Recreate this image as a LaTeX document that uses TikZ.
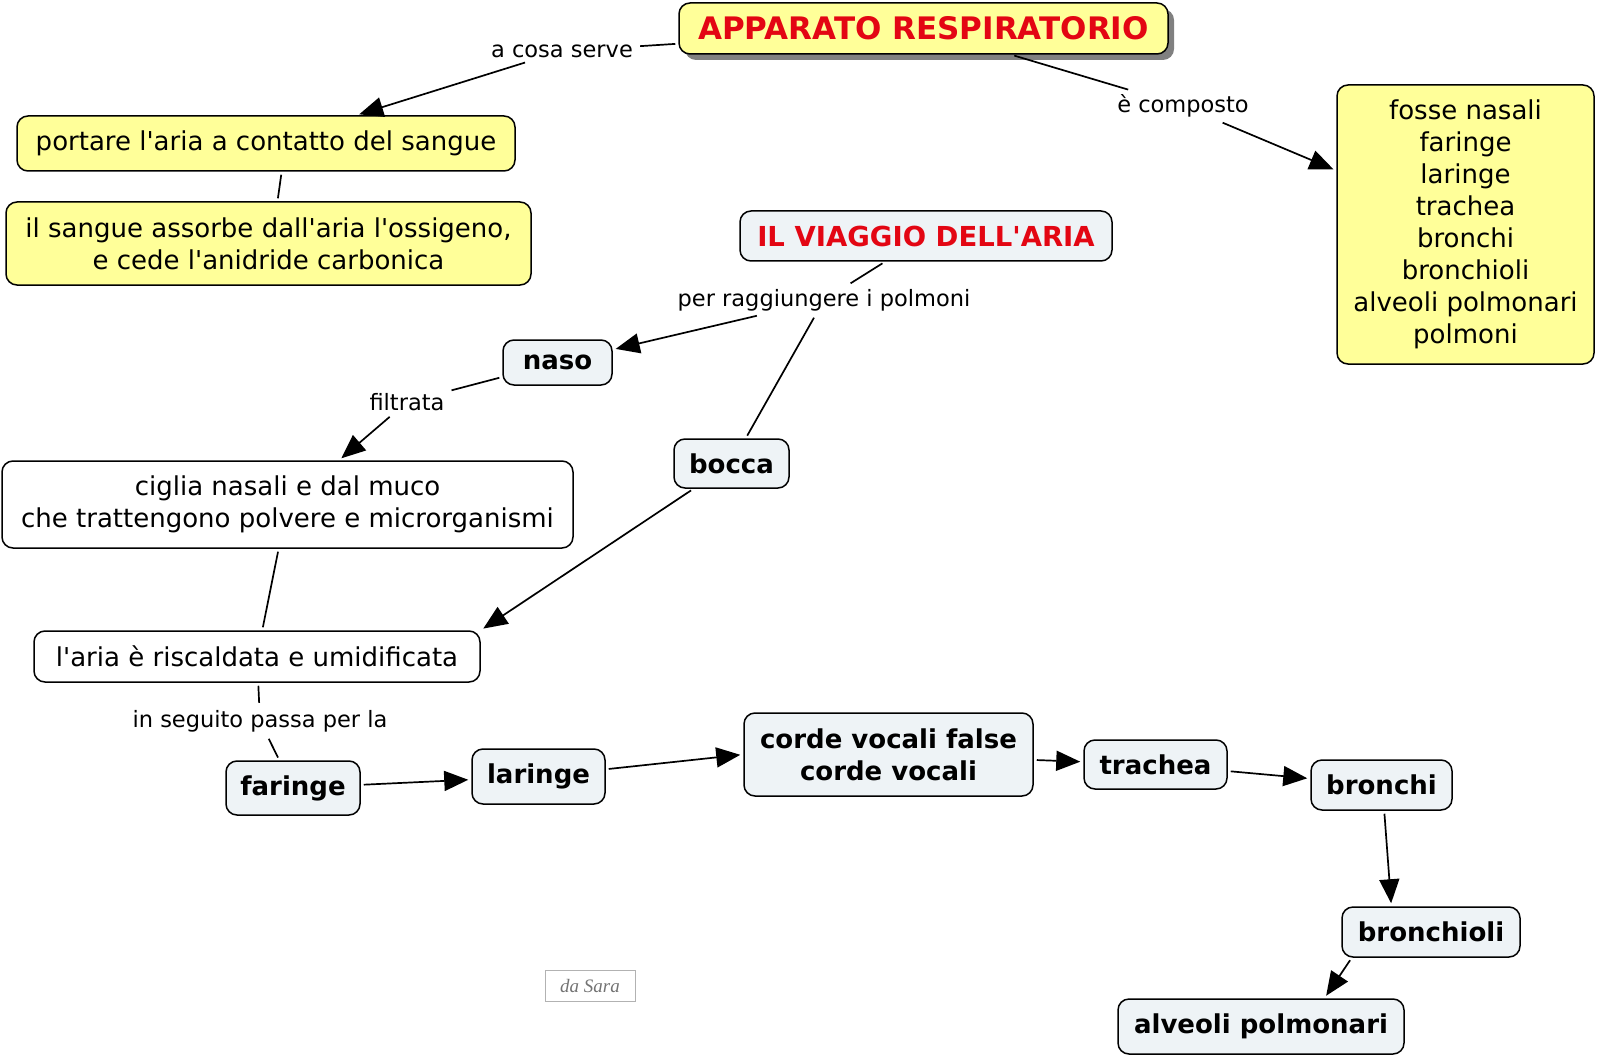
\documentclass[tikz,border=0pt]{standalone}
\usepackage{fontspec}
\setmainfont{DejaVu Sans}
\newfontfamily\sarafont{Liberation Serif}
\usetikzlibrary{arrows.meta,shadows}
\definecolor{cyel}{HTML}{FFFF99}
\definecolor{cblu}{HTML}{EEF3F6}
\definecolor{cred}{HTML}{E30613}
\newcommand{\ap}{\textquotesingle}
\begin{document}
\begin{tikzpicture}[x=1pt,y=-1pt,
  box/.style={draw=black, line width=1.5pt, rounded corners=11pt, align=center, inner sep=0pt, font=\fontsize{26}{32}\selectfont},
  yel/.style={box, fill=cyel},
  blu/.style={box, fill=cblu, font=\fontsize{26}{32}\selectfont\bfseries},
  wht/.style={box, fill=white},
  lbl/.style={inner sep=4pt, font=\fontsize{22.5}{26}\selectfont},
  conn/.style={line width=1.7pt, shorten <=3pt, shorten >=3pt},
  arr/.style={conn, -{Triangle[length=24pt,width=20pt]}},
]
\useasboundingbox (0,0) rectangle (1600,1059);
% nodes
\node[yel, minimum width=489pt, minimum height=51pt, text=cred,
      font=\fontsize{31}{36}\selectfont\bfseries,
      drop shadow={shadow xshift=6pt, shadow yshift=-6pt, fill=black!50, opacity=1}] (title) at (923.5,28.5) {APPARATO RESPIRATORIO};
\node[yel, minimum width=498pt, minimum height=55pt] (portare) at (266,143.5) {portare l\ap aria a contatto del sangue};
\node[yel, minimum width=525pt, minimum height=83pt] (sangue) at (268.5,243.5) {il sangue assorbe dall\ap aria l\ap ossigeno,\\ e cede l\ap anidride carbonica};
\node[yel, minimum width=257pt, minimum height=279pt] (right) at (1465.5,224.5) {fosse nasali\\ faringe\\ laringe\\ trachea\\ bronchi\\ bronchioli\\ alveoli polmonari\\ polmoni};
\node[blu, minimum width=372pt, minimum height=50pt, text=cred, font=\fontsize{27.5}{32}\selectfont\bfseries] (viaggio) at (926,236) {IL VIAGGIO DELL\ap ARIA};
\node[blu, minimum width=109pt, minimum height=45pt] (naso) at (557.5,362.5) {naso};
\node[blu, minimum width=115pt, minimum height=49pt] (bocca) at (731.5,463.5) {bocca};
\node[wht, minimum width=571pt, minimum height=87pt] (ciglia) at (287.5,504.5) {ciglia nasali e dal muco\\ che trattengono polvere e microrganismi};
\node[wht, minimum width=446pt, minimum height=51pt] (risc) at (257,656.5) {l\ap aria è riscaldata e umidificata};
\node[blu, minimum width=134pt, minimum height=54pt] (faringe) at (293,788) {faringe};
\node[blu, minimum width=133pt, minimum height=55pt] (laringe) at (538.5,776.5) {laringe};
\node[blu, minimum width=289pt, minimum height=83pt] (corde) at (888.5,754.5) {corde vocali false\\ corde vocali};
\node[blu, minimum width=143pt, minimum height=49pt] (trachea) at (1155.5,764.5) {trachea};
\node[blu, minimum width=141pt, minimum height=50pt] (bronchi) at (1381.5,785) {bronchi};
\node[blu, minimum width=178pt, minimum height=50pt] (bronchioli) at (1431,932) {bronchioli};
\node[blu, minimum width=286pt, minimum height=55pt] (alveoli) at (1261,1026.5) {alveoli polmonari};
\node[draw=black!30, line width=1pt, minimum width=90pt, minimum height=31pt, inner sep=0pt, text=black!55,
      font=\sarafont\itshape\fontsize{19}{22}\selectfont] (sara) at (590,985.5) {da Sara};
% labels
\node[lbl] (lcosa) at (562,51) {a cosa serve};
\node[lbl] (lcomp) at (1183,106) {è composto};
\node[lbl] (lper) at (824,300) {per raggiungere i polmoni};
\node[lbl] (lfilt) at (407,402) {filtrata};
\node[lbl] (lseg) at (260,721) {in seguito passa per la};
% connectors
\draw[conn] (title) -- (lcosa);
\draw[arr] (lcosa) -- (portare);
\draw[conn] (title) -- (lcomp);
\draw[arr] (lcomp) -- (right);
\draw[conn] (portare.-61.5) -- (sangue.78);
\draw[conn] (viaggio) -- (lper);
\draw[arr] (lper) -- (naso);
\draw[conn] (lper) -- (bocca);
\draw[conn] (naso) -- (lfilt);
\draw[arr] (lfilt) -- (ciglia);
\draw[conn] (ciglia) -- (risc);
\draw[arr] (bocca) -- (risc.north east);
\draw[conn] (risc) -- (lseg);
\draw[conn] (lseg) -- (faringe);
\draw[arr] (faringe) -- (laringe);
\draw[arr] (laringe) -- (corde.west);
\draw[arr] (corde) -- (trachea);
\draw[arr] (trachea) -- (bronchi);
\draw[arr] (bronchi.-84) -- (bronchioli.147);
\draw[arr] (bronchioli.198.4) -- (alveoli.24.3);
\end{tikzpicture}
\end{document}
